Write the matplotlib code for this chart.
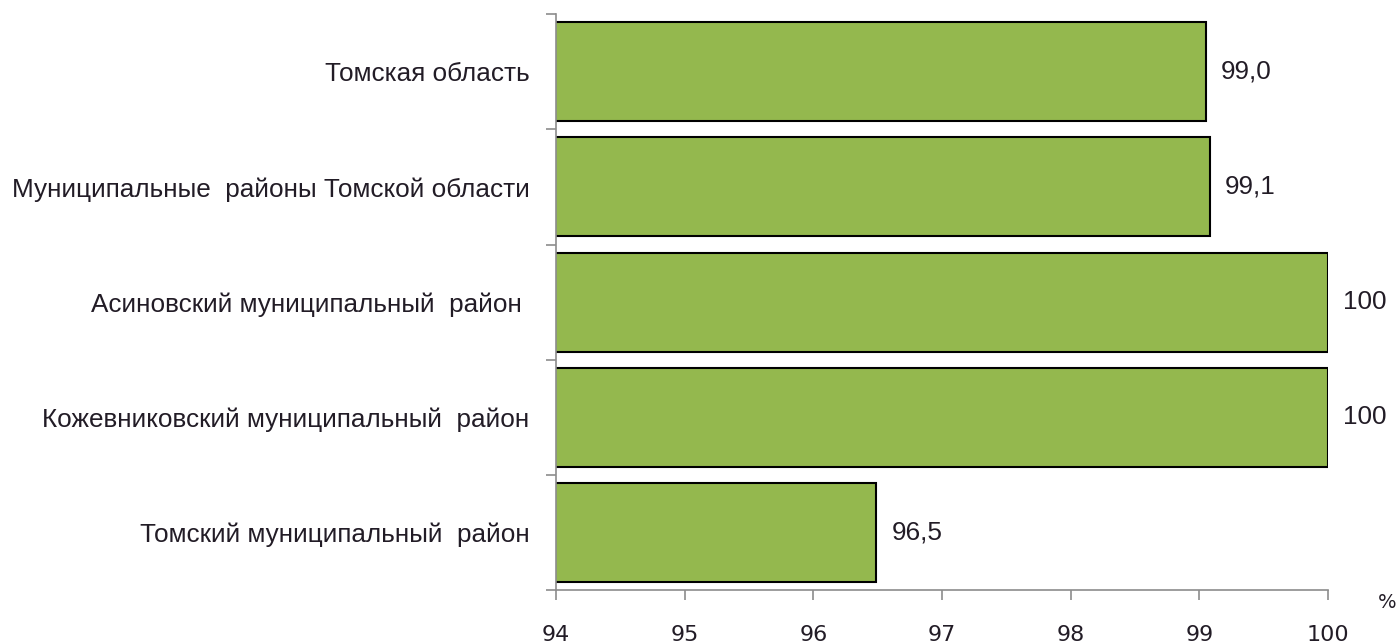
import matplotlib
matplotlib.use("Agg")
import matplotlib.pyplot as plt
import numpy as np

# данные
regions = ["Томская область",
           "Муниципальные  районы Томской области",
           "Асиновский муниципальный  район ",
           "Кожевниковский муниципальный  район",
           "Томский муниципальный  район"]
values = [99.05, 99.08, 100, 100, 96.49]
value_labels = ["99,0", "99,1", "100", "100", "96,5"]
x_ticks = [94, 95, 96, 97, 98, 99, 100]

plt.rcParams['font.family'] = ['Liberation Sans', 'DejaVu Sans']
txt_color = '#221c26'

fig = plt.figure(figsize=(13.97, 6.44), dpi=100)
ax = fig.add_axes([0.398, 0.0839, 0.5526, 0.894])

y = np.arange(len(regions))[::-1]
ax.barh(y, values, left=0, height=0.86, color='#94B84E', edgecolor='black', linewidth=1.5)

ax.set_xlim(94, 100)
ax.set_ylim(-0.5, len(regions) - 0.5)

# подписи значений
for yi, v, lab in zip(y, values, value_labels):
    ax.annotate(lab, (v, yi), xytext=(11, 0), textcoords='offset points',
                va='center', ha='left', fontsize=18.8, color=txt_color)

ax.set_xticks(x_ticks)
ax.set_xticklabels([str(t) for t in x_ticks], fontsize=16, color=txt_color,
                   family='DejaVu Sans')
ax.tick_params(axis='x', direction='out', length=7, width=1.2, color='#8c8c8c', pad=18)

# деления по границам категорий, подписи по центрам
ax.set_yticks(np.arange(-0.5, len(regions), 1))
ax.set_yticklabels([])
ax.set_yticks(y, minor=True)
ax.set_yticklabels(regions, minor=True, fontsize=18.8, color=txt_color)
ax.tick_params(axis='y', which='major', direction='out', length=7, width=1.2, color='#8c8c8c')
ax.tick_params(axis='y', which='minor', length=0, pad=19)

for s in ['top', 'right']:
    ax.spines[s].set_visible(False)
for s in ['left', 'bottom']:
    ax.spines[s].set_color('#8c8c8c')
    ax.spines[s].set_linewidth(1.2)

fig.text(1387 / 1397, 1 - 603 / 644, '%', ha='center', va='center', fontsize=14,
         color=txt_color, family='DejaVu Sans')

fig.savefig('out.png', dpi=100)
